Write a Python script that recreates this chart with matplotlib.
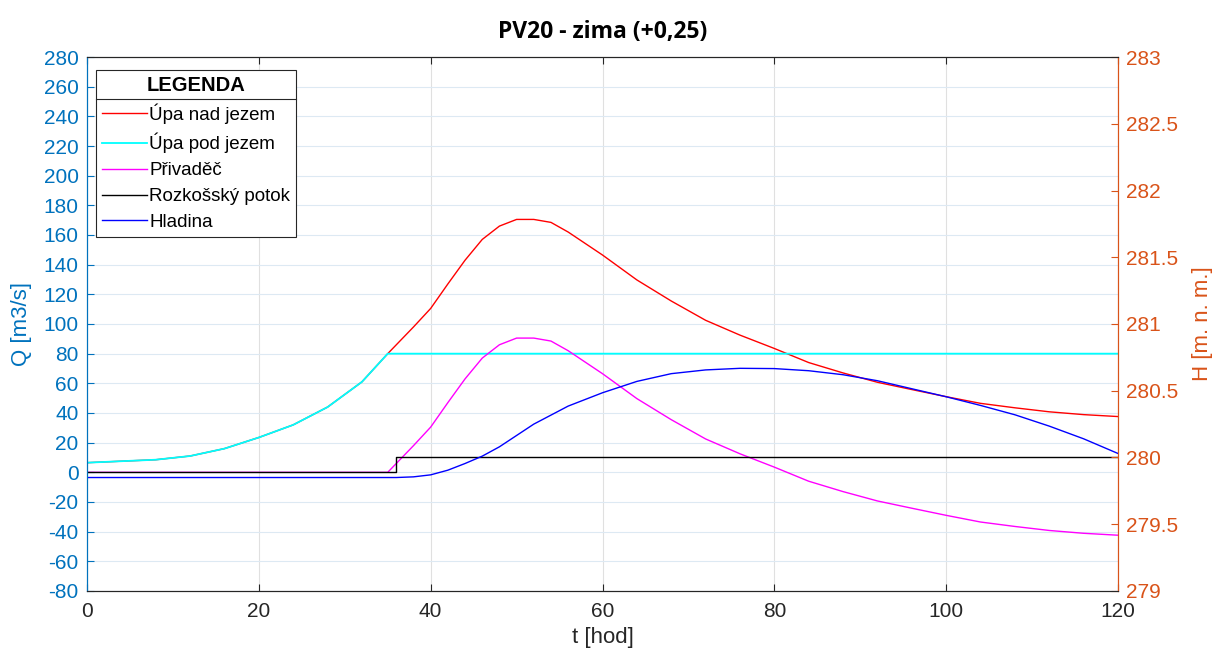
import numpy as np
import matplotlib
matplotlib.use("Agg")
import matplotlib.pyplot as plt
from matplotlib.lines import Line2D

plt.rcParams["font.family"] = ["Liberation Sans", "DejaVu Sans"]
plt.rcParams["axes.unicode_minus"] = False

# ── data ────────────────────────────────────────────────────────────────────
t_upa = [0, 4, 8, 12, 16, 20, 24, 28, 32, 35, 36, 38, 40, 42, 44, 46, 48, 50,
         52, 54, 56, 60, 64, 68, 72, 76, 80, 84, 88, 92, 96, 100, 104, 108,
         112, 116, 120]
upa_nad = [6.5, 7.5, 8.5, 11, 16, 23.5, 32, 44, 61, 80, 86, 98, 110.5, 127,
           143, 157, 166, 170.5, 170.5, 168.5, 162, 146.5, 129.7, 115.5, 102.5,
           92.5, 83.5, 74, 67, 60.7, 55.8, 51, 46.5, 43.5, 40.8, 38.9, 37.6]
upa_pod = [6.5, 7.5, 8.5, 11, 16, 23.5, 32, 44, 61, 80, 80, 80, 80, 80, 80,
           80, 80, 80, 80, 80, 80, 80, 80, 80, 80, 80, 80, 80, 80, 80, 80, 80,
           80, 80, 80, 80, 80]
privadec = [0, 0, 0, 0, 0, 0, 0, 0, 0, 0, 6, 18, 30.5, 47, 63, 77, 86, 90.5,
            90.5, 88.5, 82, 66.5, 49.7, 35.5, 22.5, 12.5, 3.5, -6, -13, -19.3,
            -24.2, -29, -33.5, -36.5, -39.2, -41.1, -42.4]

t_potok = [0, 36, 36, 120]
potok = [0, 0, 10, 10]

t_hl = [0, 10, 20, 30, 36, 38, 40, 42, 44, 46, 48, 50, 52, 56, 60, 64, 68, 72,
        76, 80, 84, 88, 92, 96, 100, 104, 108, 112, 116, 120]
hladina = [279.85, 279.85, 279.85, 279.85, 279.85, 279.855, 279.87, 279.905,
           279.955, 280.01, 280.08, 280.165, 280.25, 280.385, 280.485, 280.57,
           280.628, 280.656, 280.668, 280.666, 280.65, 280.62, 280.575, 280.515,
           280.455, 280.39, 280.32, 280.235, 280.14, 280.03]

BLUE = "#0072BD"
ORANGE = "#D95319"
DARK = "#262626"

fig = plt.figure(figsize=(12.24, 6.59), dpi=100)
ax = fig.add_axes([0.0711, 0.1032, 0.8423, 0.8103])
ax2 = ax.twinx()

h1, = ax.plot(t_upa, upa_nad, color="#FF0000", lw=1.0, label="Úpa nad jezem")
h2, = ax.plot(t_upa, upa_pod, color="#00FFFF", lw=1.3, label="Úpa pod jezem")
h3, = ax.plot(t_upa, privadec, color="#FF00FF", lw=1.0, label="Přivaděč")
h4, = ax.plot(t_potok, potok, color="black", lw=1.0, label="Rozkošský potok")
h5, = ax2.plot(t_hl, hladina, color="#0000FF", lw=1.0, label="Hladina")

ax.set_xlim(0, 120)
ax.set_ylim(-80, 280)
ax.set_xticks(np.arange(0, 121, 20))
ax.set_yticks(np.arange(-80, 281, 20))
ax2.set_ylim(279, 283)
ax2.set_yticks([279, 279.5, 280, 280.5, 281, 281.5, 282, 282.5, 283])
ax2.set_yticklabels(["279", "279.5", "280", "280.5", "281", "281.5", "282",
                     "282.5", "283"])

ax.grid(axis="y", color="#dde9f3", lw=0.8)
ax.grid(axis="x", color="#e0e0e0", lw=0.8)
ax.set_axisbelow(True)

ax.tick_params(axis="y", colors=BLUE, labelsize=15, direction="in", length=5,
               pad=6)
ax.tick_params(axis="x", colors=DARK, labelsize=15, direction="in", length=5,
               top=True, pad=8)
ax2.tick_params(axis="y", colors=ORANGE, labelsize=15, direction="in", length=5,
                pad=6)

for a in (ax, ax2):
    a.spines["left"].set_color(BLUE)
    a.spines["right"].set_color(ORANGE)
    a.spines["top"].set_color(DARK)
    a.spines["bottom"].set_color(DARK)
    for s in a.spines.values():
        s.set_linewidth(0.8)

ax.set_ylabel("Q [m3/s]", color=BLUE, fontsize=16, labelpad=8)
ax2.set_ylabel("H [m. n. m.]", color=ORANGE, fontsize=16, labelpad=10)
ax.set_xlabel("t [hod]", color=DARK, fontsize=16, labelpad=4)
ax.set_title("PV20 - zima (+0,25)", fontsize=16.5, fontweight="bold",
             family="Open Sans", pad=14)

leg = ax2.legend(handles=[h1, h2, h3, h4, h5], loc="upper left",
                 title="LEGENDA", fontsize=13.5, frameon=True, fancybox=False,
                 framealpha=1, edgecolor=DARK, handlelength=2.4,
                 handletextpad=0.15, labelspacing=0.47, borderpad=0.3,
                 borderaxespad=0.0, bbox_to_anchor=(0.0087, 0.9757))
leg.get_title().set_fontweight("bold")
leg.get_title().set_fontsize(14.5)
leg.get_frame().set_linewidth(0.8)

# separator line under the legend title (MATLAB style)
fig.canvas.draw()
r = fig.canvas.get_renderer()
fb = leg.get_frame().get_window_extent(r)
tb = leg.get_title().get_window_extent(r)
inv = fig.transFigure.inverted()
y_sep = tb.y0 - 4
(x0, y0), (x1, _) = inv.transform([(fb.x0, y_sep), (fb.x1, y_sep)])
fig.add_artist(Line2D([x0, x1], [y0, y0], color=DARK, lw=0.8))

fig.savefig("out.png", dpi=100)
